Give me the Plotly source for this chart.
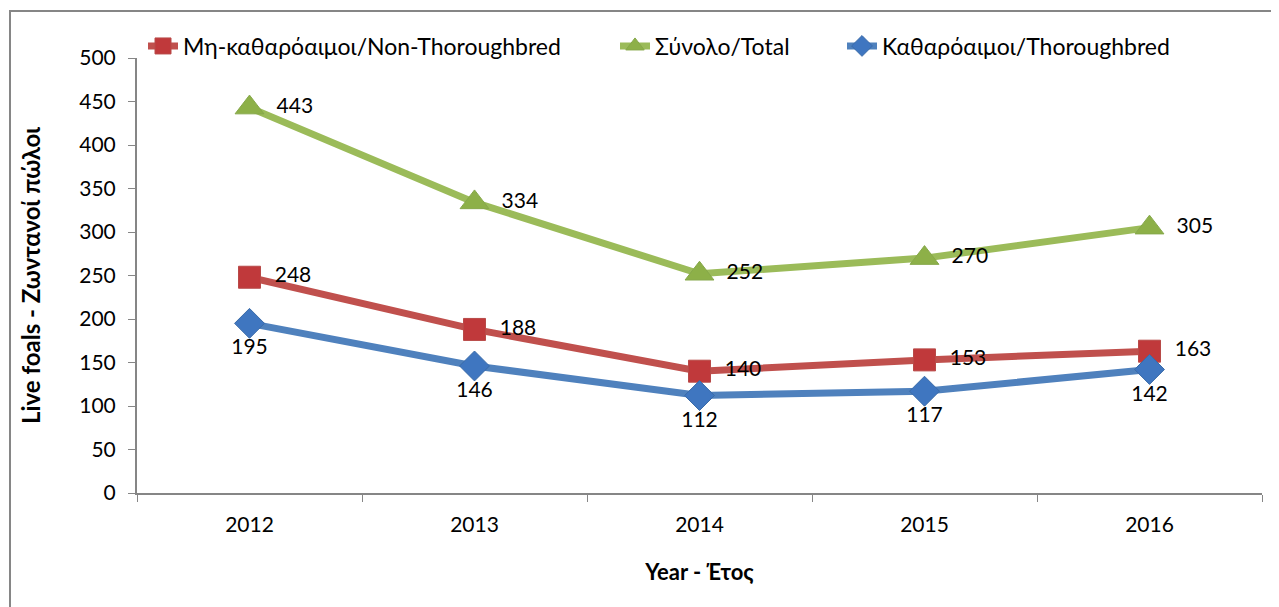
import plotly.graph_objects as go

years = ["2012", "2013", "2014", "2015", "2016"]
non_thoroughbred = [248, 188, 140, 153, 163]
total = [443, 334, 252, 270, 305]
thoroughbred = [195, 146, 112, 117, 142]

FONT = "Lato, 'Noto Sans', sans-serif"
LBL = dict(size=21, color="#000000", family=FONT)

# the page adds an 8px body margin, so the figure's coordinates are offset by 8px
L, T, PW, PH = 129, 50, 1125, 435

fig = go.Figure()
fig.add_trace(go.Scatter(
    x=years, y=non_thoroughbred, name="Μη-καθαρόαιμοι/Non-Thoroughbred",
    mode="lines+markers+text", texttemplate="\u2002%{y}",
    textposition="middle right", textfont=LBL, legendwidth=427,
    line=dict(color="#C0504D", width=7),
    marker=dict(symbol="square", size=22, color="#C0393B", line=dict(color="#B84A48", width=1)),
))
fig.add_trace(go.Scatter(
    x=years, y=total, name="Σύνολο/Total",
    mode="lines+markers+text", texttemplate="\u2002%{y}",
    textposition="middle right", textfont=LBL, legendwidth=182,
    line=dict(color="#9BBB59", width=7),
    marker=dict(symbol="triangle-up", size=25, color="#8DB048", line=dict(color="#86A84A", width=1)),
))
fig.add_trace(go.Scatter(
    x=years, y=thoroughbred, name="Καθαρόαιμοι/Thoroughbred",
    mode="lines+markers+text", texttemplate="%{y}",
    textposition="bottom center", textfont=LBL,
    line=dict(color="#4F81BD", width=7),
    marker=dict(symbol="diamond", size=23, color="#3F76C0", line=dict(color="#3A6BA8", width=1)),
))

fig.update_layout(
    width=1279, height=607,
    margin=dict(l=L, r=1279 - L - PW, t=T, b=607 - T - PH, autoexpand=False),
    paper_bgcolor="white", plot_bgcolor="white",
    font=dict(family=FONT, size=21, color="#000000"),
    showlegend=True,
    legend=dict(orientation="h", x=(143 - 137) / PW, xanchor="left",
                y=(493 - 46) / PH, yanchor="middle",
                font=dict(size=23), bgcolor="rgba(0,0,0,0)",
                entrywidthmode="pixels", tracegroupgap=0),
    shapes=[dict(type="rect", xref="paper", yref="paper",
                 x0=(10 - 137) / PW, x1=1.3, y0=-0.6, y1=(493 - 11) / PH,
                 line=dict(color="#868686", width=2), fillcolor="rgba(0,0,0,0)", layer="below")],
)
fig.update_xaxes(
    type="category", range=[-0.5, 4.5], tickson="boundaries", automargin=False,
    ticks="outside", ticklen=7, tickcolor="#868686", showline=True, linecolor="#868686", linewidth=2,
    showgrid=False, zeroline=False, tickfont=dict(size=21), ticklabelstandoff=12,
    title=dict(text="<b>Year - Έτος</b>", font=dict(size=22), standoff=29),
)
fig.update_yaxes(
    range=[0, 500], dtick=50, ticks="outside", ticklen=7, tickcolor="#868686", automargin=False,
    showline=True, linecolor="#868686", linewidth=2, showgrid=False, zeroline=False,
    tickfont=dict(size=21), ticklabelstandoff=8,
    title=dict(text="<b>Live foals - Ζωντανοί πώλοι</b>", font=dict(size=24), standoff=32),
)

fig.write_html("out.html")
